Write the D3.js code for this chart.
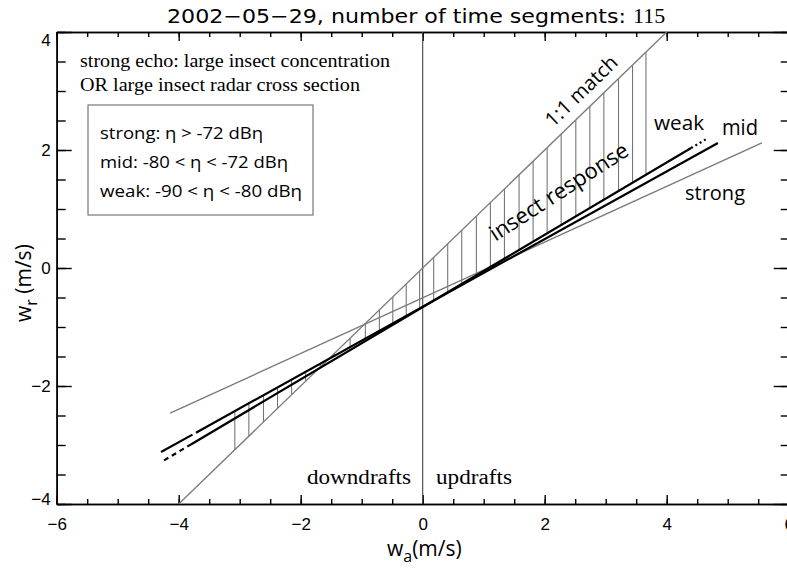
<!DOCTYPE html>
<html>
<head>
<meta charset="utf-8">
<script src="https://cdn.jsdelivr.net/npm/d3@7"></script>
<style>
  body { margin: 0; background: #fff; }
  svg text { fill: #000; }
</style>
</head>
<body>
<div id="chart"></div>
<script>
// reference lines, each as [x0, y0, x1, y1] in m/s
const oneToOne = [-4, -4, 4, 4];
const strongLine = [-4.14, -2.46, 5.56, 2.12];
const midLine = [-4.29, -3.12, 4.84, 2.12];
const weakLine = [-4.24, -3.26, 4.64, 2.18];
// where the weak line turns from dashed to solid and from solid to dotted
const weakBreaks = [-3.8, 4.4];
// x positions of the hatch strokes between the 1:1 line and the insect response
const hatchX = [-3.08, -2.85, -2.61, -2.38, -2.15, -1.92, -1.68, -1.45, -1.19, -0.94,
                -0.71, -0.49, -0.27, -0.05, 0.18, 0.41, 0.64, 0.88, 1.11, 1.34,
                1.58, 1.81, 2.04, 2.27, 2.51, 2.74, 2.97, 3.21, 3.44, 3.66];
const majorTicksX = [-6, -4, -2, 0, 2, 4, 6];
const majorTicksY = [-4, -2, 0, 2, 4];
const minorStep = 0.5;

(() => {
    const W = 787, H = 569;
    const svg = d3.select("#chart").append("svg").attr("width", W).attr("height", H);

    const x = d3.scaleLinear().domain([-6, 6]).range([56.7, 788.7]);
    const y = d3.scaleLinear().domain([-4, 4]).range([504, 32]);

    const minorX = d3.range(-6, 6.01, minorStep);
    const minorY = d3.range(-4, 4.01, minorStep);
    const tickFont = "'Liberation Sans', Arial, sans-serif";
    const sans = "'Open Sans', 'Noto Sans', sans-serif";
    const serif = "'Liberation Serif', 'Times New Roman', serif";

    const styleAxis = (g) => {
        g.select(".domain").attr("stroke", "#000").attr("stroke-width", 1.6);
        g.selectAll(".tick line").attr("stroke", "#000").attr("stroke-width", 1.4);
        g.selectAll("text").attr("font-family", tickFont).attr("font-size", 17).attr("fill", "#000");
    };

    // bottom
    svg.append("g").attr("transform", `translate(0,${y(-4)})`)
        .call(d3.axisBottom(x).tickValues(minorX).tickSizeInner(-5).tickSizeOuter(0).tickFormat(""))
        .call(styleAxis);
    svg.append("g").attr("transform", `translate(0,${y(-4)})`)
        .call(d3.axisBottom(x).tickValues(majorTicksX).tickSizeInner(-9).tickSizeOuter(0).tickPadding(14))
        .call(styleAxis);
    // top
    svg.append("g").attr("transform", `translate(0,${y(4)})`)
        .call(d3.axisTop(x).tickValues(minorX).tickSizeInner(-5).tickSizeOuter(0).tickFormat(""))
        .call(styleAxis);
    svg.append("g").attr("transform", `translate(0,${y(4)})`)
        .call(d3.axisTop(x).tickValues(majorTicksX).tickSizeInner(-9).tickSizeOuter(0).tickFormat(""))
        .call(styleAxis);
    // left
    svg.append("g").attr("transform", `translate(${x(-6)},0)`)
        .call(d3.axisLeft(y).tickValues(minorY).tickSizeInner(-9).tickSizeOuter(0).tickFormat(""))
        .call(styleAxis);
    const left = svg.append("g").attr("transform", `translate(${x(-6)},0)`)
        .call(d3.axisLeft(y).tickValues(majorTicksY).tickSizeInner(-15).tickSizeOuter(0).tickPadding(6))
        .call(styleAxis);
    left.selectAll(".tick text").attr("dy", d => d === 4 ? "0.8em" : d === -4 ? "0.05em" : "0.32em");
    // right
    svg.append("g").attr("transform", `translate(${x(6)},0)`)
        .call(d3.axisRight(y).tickValues(minorY).tickSizeInner(-8).tickSizeOuter(0).tickFormat(""))
        .call(styleAxis);
    svg.append("g").attr("transform", `translate(${x(6)},0)`)
        .call(d3.axisRight(y).tickValues(majorTicksY).tickSizeInner(-15).tickSizeOuter(0).tickFormat(""))
        .call(styleAxis);

    // zero line
    svg.append("line")
        .attr("x1", x(0)).attr("x2", x(0)).attr("y1", y(-4)).attr("y2", y(4))
        .attr("stroke", "#444").attr("stroke-width", 1.1);

    const lineAt = (l, xv) => l[1] + (l[3] - l[1]) * (xv - l[0]) / (l[2] - l[0]);

    // hatching
    svg.append("g").selectAll("line")
        .data(hatchX)
        .join("line")
        .attr("x1", d => x(d)).attr("x2", d => x(d))
        .attr("y1", d => y(lineAt(oneToOne, d)))
        .attr("y2", d => y(Math.max(lineAt(midLine, d), lineAt(weakLine, d))))
        .attr("stroke", "#777").attr("stroke-width", 1.1);

    const seg = (l, xa, xb) => ({ x1: x(xa), y1: y(lineAt(l, xa)), x2: x(xb), y2: y(lineAt(l, xb)) });
    const drawSeg = (s, stroke, sw, dash) => svg.append("line")
        .attr("x1", s.x1).attr("y1", s.y1).attr("x2", s.x2).attr("y2", s.y2)
        .attr("stroke", stroke).attr("stroke-width", sw)
        .attr("stroke-dasharray", dash || null);

    drawSeg(seg(oneToOne, oneToOne[0], oneToOne[2]), "#7a7a7a", 1.3);
    drawSeg(seg(strongLine, strongLine[0], strongLine[2]), "#7a7a7a", 1.4);
    drawSeg(seg(midLine, midLine[0], midLine[2]), "#000", 2.2, "36,4,600");
    drawSeg(seg(weakLine, weakLine[0], weakBreaks[0]), "#000", 2.2, "5,4");
    drawSeg(seg(weakLine, weakBreaks[0], weakBreaks[1]), "#000", 2.2);
    drawSeg(seg(weakLine, weakBreaks[1], weakLine[2]), "#000", 2.2, "2,3");

    // title
    const title = svg.append("text").attr("x", 167).attr("y", 23)
        .attr("font-family", "'DejaVu Sans', sans-serif").attr("font-size", 20);
    title.append("tspan").text("2002\u221205\u221229, number of time segments: ")
        .attr("textLength", 466).attr("lengthAdjust", "spacingAndGlyphs");
    title.append("tspan").attr("font-family", serif).attr("font-size", 22).text("115");

    // axis labels
    const xl = svg.append("text").attr("x", 387).attr("y", 556)
        .attr("font-family", sans).attr("font-size", 21);
    xl.append("tspan").text("w");
    xl.append("tspan").attr("font-size", 16).attr("dy", 6).text("a");
    xl.append("tspan").attr("dy", -6).text("(m/s)");

    const yl = svg.append("text").attr("transform", "translate(31,322) rotate(-90)")
        .attr("font-family", sans).attr("font-size", 21);
    yl.append("tspan").text("w");
    yl.append("tspan").attr("font-size", 16).attr("dy", 6).text("r");
    yl.append("tspan").attr("dy", -6).text(" (m/s)");

    // notes
    const note = (t, px, py, fam, size, len, color) => svg.append("text")
        .attr("x", px).attr("y", py).attr("font-family", fam).attr("font-size", size)
        .attr("fill", color || "#000")
        .attr("textLength", len).attr("lengthAdjust", "spacingAndGlyphs").text(t);

    note("strong echo: large insect concentration", 80, 67, serif, 19, 310);
    note("OR large insect radar cross section", 80, 91, serif, 19, 280);
    note("downdrafts", 307, 484, serif, 20, 104);
    note("updrafts", 436, 484, serif, 20, 76);

    svg.append("rect").attr("x", 88).attr("y", 105).attr("width", 225).attr("height", 110)
        .attr("fill", "none").attr("stroke", "#777").attr("stroke-width", 1.2);
    note("strong: \u03b7 > -72 dB\u03b7", 100, 139, sans, 16.5, 163);
    note("mid: -80 < \u03b7 < -72 dB\u03b7", 100, 168, sans, 16.5, 188);
    note("weak: -90 < \u03b7 < -80 dB\u03b7", 100, 197, sans, 16.5, 202);

    note("weak", 654, 130, sans, 20, 50);
    note("mid", 722, 135, sans, 21, 36);
    note("strong", 685, 200, sans, 20, 60, "#7a7a7a");

    svg.append("text").attr("transform", "translate(586,96) rotate(-44)")
        .attr("text-anchor", "middle").attr("font-family", sans).attr("font-size", 20)
        .attr("fill", "#7a7a7a").text("1:1 match");
    svg.append("text").attr("transform", "translate(563,198) rotate(-33)")
        .attr("text-anchor", "middle").attr("font-family", sans).attr("font-size", 22)
        .text("insect response");
})();
</script>
</body>
</html>
